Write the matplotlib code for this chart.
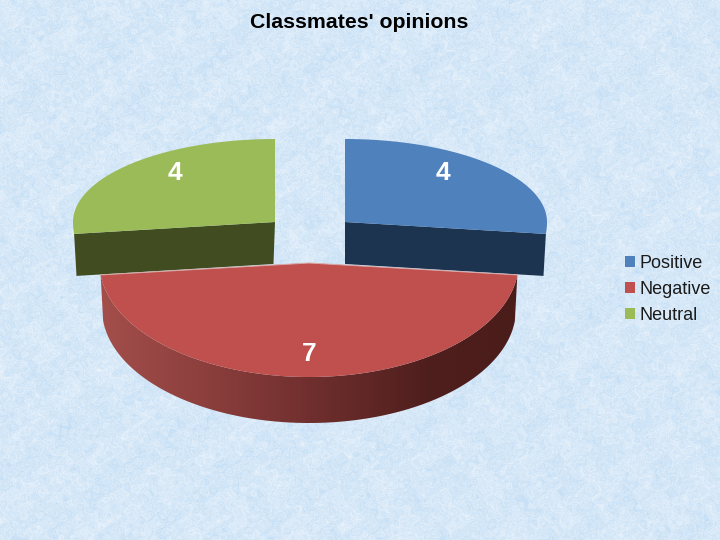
import numpy as np
import matplotlib
matplotlib.use('Agg')
import matplotlib.pyplot as plt
from matplotlib.patches import Patch, Polygon
from matplotlib.colors import LinearSegmentedColormap

plt.rcParams['font.family'] = ['Liberation Sans', 'DejaVu Sans']

title = "Classmates' opinions"
categories = ['Positive', 'Negative', 'Neutral']
values = [4, 7, 4]
top_colors = ['#4f81bd', '#c0504d', '#9bbb59']
side_colors = ['#1d3450', '#5a2220', '#414d20']

# pie layout in pixels
center = np.array([309.0, 263.0])
explode = [(36, -41), (0, 0), (-34, -41)]
radius_x = [202, 209.5, 202]
back_ry = 83
front_ry = 114
depths = [42, 46, 42]
bottom_shrink = 0.988
label_fx = [0.485, 0.0, 0.495]
label_fy = [0.59, 0.80, 0.59]


def rim(t, cx, cy, rx):
    c = np.cos(t)
    ry = np.where(c > 0, back_ry, front_ry)
    return cx + rx * np.sin(t), cy - ry * c


def background(ax):
    # soft mottled paper look, no data here
    yy, xx = np.mgrid[0:540, 0:720].astype(float)
    wx = xx + 9 * np.sin(yy * 0.19 + 0.7) + 6 * np.sin(yy * 0.37 + xx * 0.23)
    wy = yy + 9 * np.sin(xx * 0.17 + 2.1) + 6 * np.sin(xx * 0.41 - yy * 0.29)
    tex = np.zeros(xx.shape)
    for fx, fy, ph, amp in [(0.009, 0.014, 0.4, 0.6), (0.019, -0.011, 1.9, 0.6),
                            (0.037, 0.023, 3.1, 0.6), (-0.047, 0.041, 0.7, 0.6),
                            (0.071, 0.083, 2.2, 0.6), (-0.103, 0.067, 4.2, 0.6),
                            (0.157, -0.131, 5.1, 0.6), (0.211, 0.173, 0.9, 0.6),
                            (-0.263, 0.229, 2.8, 0.5), (0.317, 0.283, 1.3, 0.5)]:
        tex += amp * np.sin(2 * np.pi * (fx * wx + fy * wy) + ph)
    tex = tex / np.abs(tex).max()
    base = np.array([214, 232, 248]) / 255
    light = np.array([240, 246, 252]) / 255
    dark = np.array([188, 218, 243]) / 255
    t = tex[..., None]
    img = np.where(t > 0, base + (light - base) * t, base + (dark - base) * -t)
    ax.imshow(img, extent=(0, 720, 540, 0), aspect='auto', zorder=0)


fig = plt.figure(figsize=(7.2, 5.4), dpi=100)
ax = fig.add_axes([0, 0, 1, 1])
background(ax)

edges = np.cumsum([0] + values) / sum(values) * 2 * np.pi

# dark cut faces of the pulled out slices
for i, end, apex_dx in [(0, edges[1], 0), (2, edges[2], -1.5)]:
    cx, cy = center + explode[i]
    ex, ey = rim(end, cx, cy, radius_x[i])
    bx = cx + (ex - cx) * bottom_shrink
    ax.fill([cx, ex, bx, cx + apex_dx], [cy, ey, ey + depths[i], cy + depths[i]],
            color=side_colors[i], lw=0, zorder=2)

# rim of the front slice, shaded left to right
cx, cy = center + explode[1]
ts = np.linspace(edges[1], edges[2], 200)
xs, ys = rim(ts, cx, cy, radius_x[1])
xb, yb = rim(ts, cx, cy, radius_x[1] * bottom_shrink)
rim_poly = Polygon(np.c_[np.r_[xs, xb[::-1]], np.r_[ys, yb[::-1] + depths[1]]],
                   closed=True, facecolor='none', edgecolor='none')
ax.add_patch(rim_poly)
shade = LinearSegmentedColormap.from_list(
    'rim', [(0.0, '#a34e4b'), (0.25, '#8c3f3d'), (0.5, '#702f2e'),
            (0.78, '#4f1f1d'), (1.0, '#4a1c1a')])
grad = ax.imshow(np.linspace(0, 1, 256)[None, :], cmap=shade, aspect='auto',
                 extent=(cx - radius_x[1], cx + radius_x[1], yb.max() + depths[1], cy),
                 zorder=3)
grad.set_clip_path(rim_poly)

# top faces
for i in range(3):
    cx, cy = center + explode[i]
    ts = np.linspace(edges[i], edges[i + 1], 120)
    xs, ys = rim(ts, cx, cy, radius_x[i])
    ax.fill(np.r_[cx, xs], np.r_[cy, ys], color=top_colors[i], lw=0, zorder=4)
    mid = (edges[i] + edges[i + 1]) / 2
    lx = cx + radius_x[i] * label_fx[i] * np.sign(round(np.sin(mid), 6))
    ry = back_ry if np.cos(mid) > 0 else front_ry
    ly = cy - ry * label_fy[i] * np.sign(np.cos(mid))
    ax.text(lx, ly, str(values[i]), color='white', fontsize=19, fontweight='bold',
            ha='center', va='center', zorder=6)

# thin pale line along the front slice's back edges
cx, cy = center
xs, ys = rim(np.array([edges[1], edges[2]]), cx, cy, radius_x[1])
ax.plot([xs[0], cx, xs[1]], [ys[0], cy, ys[1]], color='#d9a9a7', lw=0.7, zorder=5)

ax.text(359, 22.5, title, fontsize=15.3, fontweight='bold', color='black',
        ha='center', va='center', zorder=6)

handles = [Patch(facecolor=c, edgecolor='none') for c in top_colors]
leg = ax.legend(handles, categories, loc='center left', bbox_to_anchor=(0.868, 0.464),
                frameon=False, fontsize=13, handlelength=0.55, handleheight=0.55,
                handletextpad=0.25, labelspacing=0.5, borderpad=0, borderaxespad=0)
for t in leg.get_texts():
    t.set_color('#1a1a1a')

ax.set_xlim(0, 720)
ax.set_ylim(540, 0)
ax.axis('off')

fig.savefig('out.png', dpi=100)
